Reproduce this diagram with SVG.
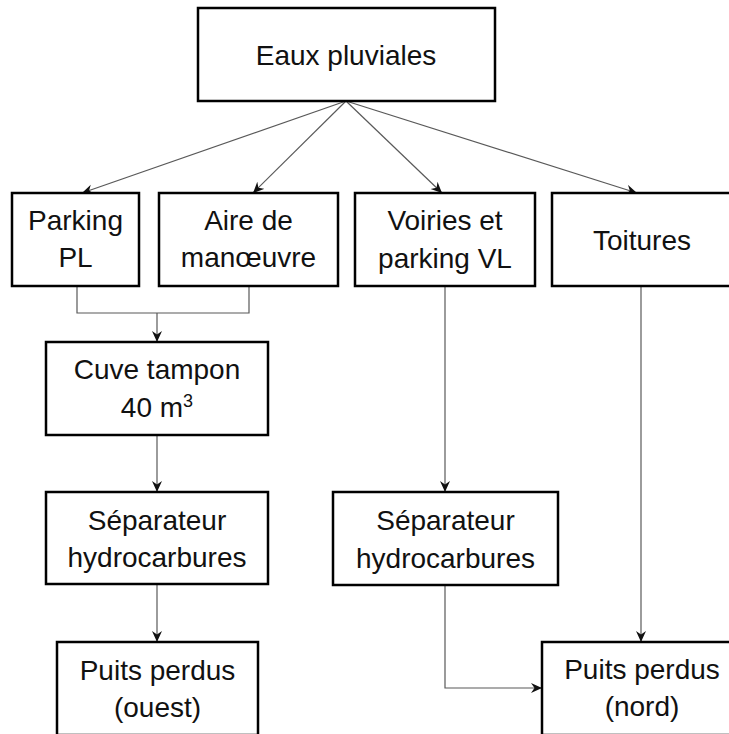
<svg xmlns="http://www.w3.org/2000/svg" width="729" height="734" viewBox="0 0 729 734">
  <style>
    .box { fill: #ffffff; stroke: #000000; stroke-width: 2.5; }
    .lbl { font-family: "Liberation Sans", Arial, sans-serif; font-size: 28px; fill: #111111; text-anchor: middle; }
    .conn { fill: none; stroke: #595959; stroke-width: 1.2; }
    .arr { marker-end: url(#ah); }
  </style>
  <defs>
    <marker id="ah" markerUnits="userSpaceOnUse" markerWidth="12" markerHeight="11" refX="11" refY="5.5" orient="auto" viewBox="0 0 12 11">
      <path d="M0,0.5 L11,5.5 L0,10.5 L3.5,5.5 Z" fill="#111111"/>
    </marker>
  </defs>
  <rect width="729" height="734" fill="#ffffff"/>

  <g id="connectors">
    <line class="conn arr" x1="346" y1="101" x2="82" y2="193"/>
    <line class="conn arr" x1="346" y1="101" x2="253" y2="193"/>
    <line class="conn arr" x1="346" y1="101" x2="442" y2="193"/>
    <line class="conn arr" x1="346" y1="101" x2="637" y2="193"/>
    <path class="conn" d="M77,286 V313 H249 V286"/>
    <path class="conn arr" d="M157,313 V342"/>
    <path class="conn arr" d="M157,435 V492"/>
    <path class="conn arr" d="M157,584 V642"/>
    <path class="conn arr" d="M445,286 V492"/>
    <path class="conn arr" d="M641,286 V642"/>
    <path class="conn arr" d="M445,585 V688 H542"/>
  </g>

  <g id="eaux-pluviales">
    <rect class="box" x="198" y="8" width="297" height="93"/>
    <text class="lbl" x="346" y="65">Eaux pluviales</text>
  </g>
  <g id="parking-pl">
    <rect class="box" x="12" y="193" width="127" height="93"/>
    <text class="lbl" x="75.5" y="230">Parking</text>
    <text class="lbl" x="75.5" y="267">PL</text>
  </g>
  <g id="aire-manoeuvre">
    <rect class="box" x="159" y="193" width="179" height="93"/>
    <text class="lbl" x="248.5" y="230">Aire de</text>
    <text class="lbl" x="248.5" y="267">manœuvre</text>
  </g>
  <g id="voiries">
    <rect class="box" x="355" y="193" width="180" height="93"/>
    <text class="lbl" x="445" y="230">Voiries et</text>
    <text class="lbl" x="445" y="268">parking VL</text>
  </g>
  <g id="toitures">
    <rect class="box" x="552" y="193" width="182" height="93"/>
    <text class="lbl" x="642" y="250">Toitures</text>
  </g>
  <g id="cuve-tampon">
    <rect class="box" x="46" y="342" width="222" height="93"/>
    <text class="lbl" x="157" y="379">Cuve tampon</text>
    <text class="lbl" x="157" y="417">40 m<tspan font-size="18" dy="-10">3</tspan></text>
  </g>
  <g id="separateur-ouest">
    <rect class="box" x="46" y="492" width="222" height="92"/>
    <text class="lbl" x="157" y="530">Séparateur</text>
    <text class="lbl" x="157" y="567">hydrocarbures</text>
  </g>
  <g id="separateur-nord">
    <rect class="box" x="333" y="492" width="225" height="93"/>
    <text class="lbl" x="445.5" y="530">Séparateur</text>
    <text class="lbl" x="445.5" y="568">hydrocarbures</text>
  </g>
  <g id="puits-ouest">
    <rect class="box" x="57" y="642" width="201" height="93"/>
    <text class="lbl" x="157.5" y="680">Puits perdus</text>
    <text class="lbl" x="157.5" y="717">(ouest)</text>
  </g>
  <g id="puits-nord">
    <rect class="box" x="542" y="642" width="192" height="93"/>
    <text class="lbl" x="642" y="679">Puits perdus</text>
    <text class="lbl" x="642" y="716">(nord)</text>
  </g>
</svg>
